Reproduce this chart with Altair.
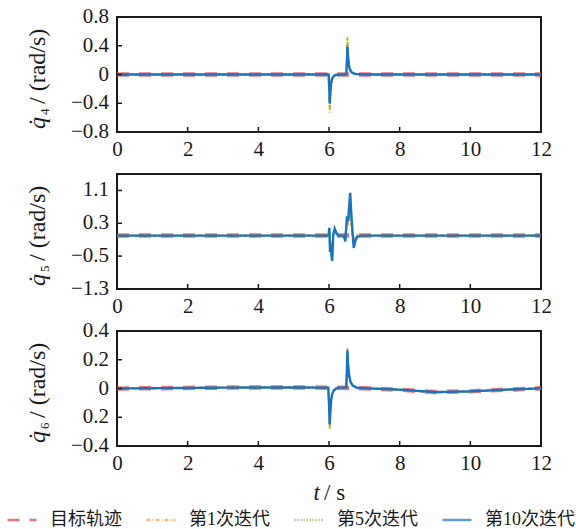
import altair as alt
import pandas as pd

SERIES = ["目标轨迹", "第1次迭代", "第5次迭代", "第10次迭代"]
COLORS = ["#E8383D", "#EEA236", "#77AC30", "#1A74BD"]
DASHES = [[12, 10], [4, 2, 1, 2], [1.2, 1.8], [1, 0]]
WIDTHS = [4.5, 2, 1.8, 2.4]
OPAC = [0.7, 1, 1, 1]

X_TICKS = [0, 2, 4, 6, 8, 10, 12]
X_TICK_MARKS = [2, 4, 6, 8, 10]

# ---- q4 ----
Q4_T_TARGET = [0, 12]
Q4_TARGET = [0.0, 0.0]
Q4_T = [0, 5.9, 5.99, 6.01, 6.02, 6.04, 6.06, 6.08, 6.11, 6.15, 6.2, 6.3,
        6.49, 6.51, 6.52, 6.54, 6.56, 6.58, 6.61, 6.65, 6.75, 7.0, 12]
Q4_IT1 = [0, 0, 0, -0.30, -0.53, -0.30, -0.16, -0.09, -0.05, -0.02, -0.008, -0.002,
          0, 0.30, 0.52, 0.30, 0.18, 0.11, 0.06, 0.03, 0.008, 0, 0]
Q4_IT5 = [0, 0, 0, -0.25, -0.46, -0.26, -0.14, -0.08, -0.045, -0.018, -0.007, -0.002,
          0, 0.26, 0.45, 0.27, 0.16, 0.10, 0.055, 0.028, 0.007, 0, 0]
Q4_IT10 = [0, 0, 0, -0.22, -0.40, -0.22, -0.12, -0.07, -0.035, -0.015, -0.005, -0.001,
           0, 0.22, 0.39, 0.24, 0.14, 0.09, 0.05, 0.025, 0.006, 0, 0]
Q4_DOMAIN = [-0.8, 0.8]
Q4_TICKS = [-0.8, -0.4, 0, 0.4, 0.8]
Q4_LABELS = ["−0.8", "−0.4", "0", "0.4", "0.8"]

# ---- q5 ----
Q5_T_TARGET = [0, 12]
Q5_TARGET = [0.0, 0.0]
Q5_T = [0, 5.96, 5.99, 6.01, 6.03, 6.05, 6.07, 6.09, 6.12, 6.16, 6.2, 6.26, 6.42,
        6.46, 6.51, 6.54, 6.57, 6.60, 6.63, 6.66, 6.70, 6.75, 6.80, 6.9, 7.2, 12]
Q5_IT1 = [0, 0, 0.01, 0.12, -0.25, -0.15, -0.35, -0.42, 0.0, 0.10, 0.05, 0.0, 0.0,
          -0.08, 0.35, 0.30, 0.50, 0.55, 0.30, 0.10, -0.12, -0.05, 0.02, 0, 0, 0]
Q5_IT5 = [0, 0, 0.015, 0.16, -0.33, -0.19, -0.43, -0.52, 0.01, 0.14, 0.06, 0.0, 0.0,
          -0.11, 0.42, 0.33, 0.60, 0.80, 0.42, 0.12, -0.20, -0.08, 0.0, 0, 0, 0]
Q5_IT10 = [0, 0, 0.02, 0.19, -0.40, -0.22, -0.50, -0.62, 0.02, 0.17, 0.08, 0.0, 0.0,
           -0.14, 0.47, 0.35, 0.70, 1.04, 0.55, 0.15, -0.30, -0.12, -0.03, 0, 0, 0]
Q5_DOMAIN = [-1.3, 1.5]
Q5_TICKS = [-1.3, -0.5, 0.3, 1.1]
Q5_LABELS = ["−1.3", "−0.5", "0.3", "1.1"]

# ---- q6 ----
Q6_T_TARGET = [0, 1, 2, 3, 4, 5, 6, 7, 8, 9, 10, 11, 12]
Q6_TARGET = [0.0, 0.002, 0.004, 0.006, 0.007, 0.007, 0.006, 0.002, -0.008, -0.025,
             -0.02, -0.008, 0.001]
Q6_T = [0, 1, 2, 3, 4, 5, 5.98, 6.0, 6.02, 6.04, 6.06, 6.09, 6.13, 6.2, 6.3, 6.49,
        6.51, 6.52, 6.54, 6.57, 6.61, 6.67, 6.8, 7, 8, 9, 10, 11, 12]
Q6_IT1 = [0, 0.002, 0.004, 0.006, 0.007, 0.007, 0.006, -0.12, -0.28, -0.17, -0.09,
          -0.045, -0.017, 0.0, 0.006, 0.006, 0.16, 0.28, 0.17, 0.095, 0.048, 0.021,
          0.004, 0.002, -0.01, -0.028, -0.022, -0.009, 0.001]
Q6_IT5 = [0, 0.002, 0.004, 0.006, 0.007, 0.007, 0.006, -0.11, -0.265, -0.16, -0.085,
          -0.042, -0.016, 0.0, 0.006, 0.006, 0.155, 0.272, 0.165, 0.092, 0.046, 0.02,
          0.004, 0.002, -0.009, -0.026, -0.021, -0.008, 0.001]
Q6_IT10 = [0, 0.002, 0.004, 0.006, 0.007, 0.007, 0.006, -0.10, -0.25, -0.15, -0.08,
           -0.04, -0.015, 0.0, 0.006, 0.006, 0.15, 0.265, 0.16, 0.09, 0.045, 0.02,
           0.004, 0.002, -0.008, -0.025, -0.02, -0.008, 0.001]
Q6_DOMAIN = [-0.4, 0.4]
Q6_TICKS = [-0.4, -0.2, 0, 0.2, 0.4]
Q6_LABELS = ["−0.4", "0.2", "0", "0.2", "0.4"]

Y_TITLE_Q = "q\u0307"
Y_TITLE_SUBS = ["4", "5", "6"]
Y_TITLE_UNIT = "/ (rad/s)"
X_TITLE_T = "t"
X_TITLE_UNIT = "/ s"

W, H = 424, 115
SERIF = "Liberation Serif, Times New Roman, serif"
INK = "#1a1a1a"
TFS = 24
LFS = 21


def legend():
    return alt.Legend(title=None, orient="none", direction="horizontal",
                      columns=4, legendX=-111, legendY=487,
                      symbolType="stroke", symbolSize=841,
                      symbolStrokeWidth=2.4, labelOffset=12,
                      columnPadding=19,
                      labelFont="Liberation Serif, Noto Sans CJK SC",
                      labelFontSize=18, labelColor=INK, labelLimit=200)


def panel(t_target, target, t_it, it1, it5, it10, domain, ticks, labels, sub, xtitle):
    rows = [(SERIES[0], t, v) for t, v in zip(t_target, target)]
    for s, vals in zip(SERIES[1:], [it1, it5, it10]):
        rows += [(s, t, v) for t, v in zip(t_it, vals)]
    df = pd.DataFrame(rows, columns=["series", "t", "v"])

    xs = alt.Scale(domain=[0, 12], nice=False, zero=False)
    ys = alt.Scale(domain=domain, nice=False, zero=False)
    x = alt.X("t:Q", scale=xs, title=None,
              axis=alt.Axis(values=X_TICKS, format="d", labelFlush=False, labelOverlap=False))
    y = alt.Y("v:Q", scale=ys, title=None, axis=None)
    color = alt.Color("series:N", scale=alt.Scale(domain=SERIES, range=COLORS), legend=legend())
    dash = alt.StrokeDash("series:N", scale=alt.Scale(domain=SERIES, range=DASHES), legend=legend())
    layers = []
    for s, w, o in zip(SERIES, WIDTHS, OPAC):
        layers.append(
            alt.Chart(df).transform_filter(alt.datum.series == s)
            .mark_line(clip=True, strokeWidth=w, opacity=o)
            .encode(x=x, y=y, color=color, strokeDash=dash)
        )
    # inward ticks
    xt = pd.DataFrame({"t": X_TICK_MARKS})
    layers.append(alt.Chart(xt).mark_rule(color=INK, strokeWidth=1.5).encode(
        x=alt.X("t:Q", scale=xs, title=None), y=alt.value(H), y2=alt.value(H - 5)))
    yt = pd.DataFrame({"v": ticks, "lab": labels})
    layers.append(alt.Chart(yt).mark_rule(color=INK, strokeWidth=1.5).encode(
        y=alt.Y("v:Q", scale=ys, title=None, axis=None), x=alt.value(0), x2=alt.value(5)))
    # y tick labels
    layers.append(alt.Chart(yt).mark_text(
        align="right", baseline="middle", font=SERIF, fontSize=LFS, color=INK, dx=-8
    ).encode(y=alt.Y("v:Q", scale=ys, title=None, axis=None), x=alt.value(0), text="lab:N"))
    # y title
    c = H / 2
    layers.append(alt.Chart(pd.DataFrame({"txt": [Y_TITLE_Q]})).mark_text(
        angle=270, align="left", baseline="alphabetic", font=SERIF, fontStyle="italic",
        fontSize=TFS, color=INK).encode(text="txt:N", x=alt.value(-72.5), y=alt.value(c + 54.5)))
    layers.append(alt.Chart(pd.DataFrame({"txt": [sub]})).mark_text(
        angle=270, align="left", baseline="alphabetic", font=SERIF,
        fontSize=13, color=INK).encode(text="txt:N", x=alt.value(-68.5), y=alt.value(c + 40.5)))
    layers.append(alt.Chart(pd.DataFrame({"txt": [Y_TITLE_UNIT]})).mark_text(
        angle=270, align="left", baseline="alphabetic", font=SERIF,
        fontSize=TFS, color=INK).encode(text="txt:N", x=alt.value(-72.5), y=alt.value(c + 29.5)))
    if xtitle:
        layers.append(alt.Chart(pd.DataFrame({"txt": [X_TITLE_T]})).mark_text(
            align="right", baseline="alphabetic", font=SERIF, fontStyle="italic",
            fontSize=23, color=INK).encode(text="txt:N", x=alt.value(203), y=alt.value(H + 54)))
        layers.append(alt.Chart(pd.DataFrame({"txt": [X_TITLE_UNIT]})).mark_text(
            align="left", baseline="alphabetic", font=SERIF,
            fontSize=23, color=INK).encode(text="txt:N", x=alt.value(207), y=alt.value(H + 54)))
    return alt.layer(*layers).properties(width=W, height=H)


p1 = panel(Q4_T_TARGET, Q4_TARGET, Q4_T, Q4_IT1, Q4_IT5, Q4_IT10,
           Q4_DOMAIN, Q4_TICKS, Q4_LABELS, Y_TITLE_SUBS[0], False)
p2 = panel(Q5_T_TARGET, Q5_TARGET, Q5_T, Q5_IT1, Q5_IT5, Q5_IT10,
           Q5_DOMAIN, Q5_TICKS, Q5_LABELS, Y_TITLE_SUBS[1], False)
p3 = panel(Q6_T_TARGET, Q6_TARGET, Q6_T, Q6_IT1, Q6_IT5, Q6_IT10,
           Q6_DOMAIN, Q6_TICKS, Q6_LABELS, Y_TITLE_SUBS[2], True)

chart = alt.VConcatChart(vconcat=[p1, p2, p3], spacing=42, bounds="flush").properties(
    padding={"left": 6, "top": 5, "right": 0, "bottom": 0}
).configure_view(stroke=INK, strokeWidth=2).configure_axis(
    domain=False, ticks=False, grid=False, labelFont=SERIF, labelFontSize=LFS,
    labelColor=INK
).configure_axisX(labelPadding=6)

chart.save("out.html", embed_options={"renderer": "svg", "actions": False})
